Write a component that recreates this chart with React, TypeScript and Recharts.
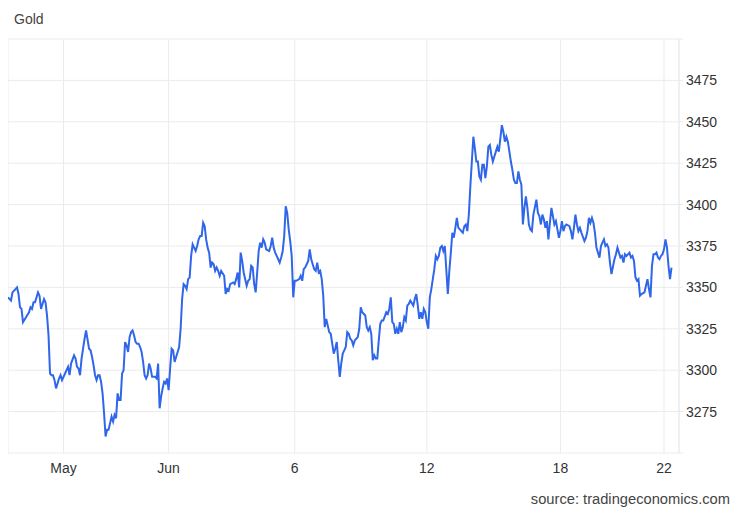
import { LineChart, Line, XAxis, YAxis, CartesianGrid } from "recharts";

// hours since start of the window (trading hours)
const hours = [
  0, 2, 3, 5, 6, 7, 8, 9, 10, 12, 14, 15, 16, 17, 18, 20, 21, 22, 24, 25, 26, 27, 28, 29, 30,
  31, 32, 33, 34, 35, 36, 38, 39, 40, 41, 42, 44, 45, 46, 47, 48, 49, 50, 51, 52, 54, 55, 56, 57,
  58, 59, 60, 61, 62, 63, 64, 65, 66, 67, 69, 70, 71, 72, 73, 74, 75, 76, 77, 78, 79, 80, 81, 82,
  83, 84, 85, 86, 87, 88, 89, 90, 91, 92, 93, 94, 95, 96, 97, 98, 99, 100, 101, 102, 103, 104,
  105, 106, 107, 108, 109, 110, 111, 112, 114, 115, 116, 117, 118, 119, 120, 121, 122, 123, 124,
  125, 126, 127, 128, 129, 130, 131, 132, 133, 134, 135, 136, 137, 138, 139, 140, 141, 142, 144,
  145, 146, 147, 148, 150, 151, 152, 153, 154, 155, 156, 157, 159, 160, 161, 162, 163, 164, 165,
  166, 167, 168, 169, 170, 171, 172, 174, 175, 176, 177, 178, 179, 180, 181, 182, 183, 184, 185,
  186, 187, 188, 189, 190, 191, 192, 194, 195, 196, 197, 198, 199, 200, 201, 202, 204, 205, 206,
  207, 208, 209, 210, 211, 212, 214, 215, 216, 217, 218, 219, 220, 221, 222, 223, 224, 225, 226,
  227, 228, 229, 230, 231, 232, 233, 234, 235, 236, 238, 239, 240, 241, 242, 243, 244, 245, 246,
  247, 248, 249, 250, 252, 253, 254, 255, 256, 257, 258, 259, 260, 261, 262, 263, 264, 265, 266,
  267, 268, 270, 271, 272, 273, 274, 275, 276, 277, 278, 279, 280, 281, 282, 284, 285, 286, 287,
  288, 289, 290, 291, 293, 294, 295, 296, 297, 298, 299, 300, 301, 302, 303, 304, 305, 306, 307,
  308, 309, 310, 311, 312, 313, 314, 315, 316, 317, 318, 319, 320, 321, 322, 323, 324, 325, 326,
  327, 328, 329, 330, 331, 332, 333, 334, 335, 336, 337, 338, 339, 340, 341, 342, 343, 344, 345,
  346, 347, 348, 349, 350, 352, 353, 354, 355, 356, 357, 358, 359, 360, 361, 362, 364, 365, 366,
  367, 368, 369, 370, 371, 372, 374, 375, 376, 377, 378, 379, 380, 381, 382, 384, 385, 386, 387,
  388, 389, 390, 391, 392, 394, 395, 396, 397, 398, 399, 400, 401, 402, 404, 405, 406, 407, 408,
  409, 410, 411, 412, 414, 415, 416, 417, 418, 419, 420, 421, 422, 424, 425, 426, 427, 428, 429,
  430, 431, 432, 433, 434, 435, 436, 437, 438, 439, 440, 441, 442,
];

// gold price, USD/t.oz
const prices = [
  3344, 3342, 3347, 3349, 3350, 3346, 3338, 3337, 3329, 3332, 3335, 3338, 3337, 3341, 3341, 3347,
  3345, 3337, 3343, 3341, 3333, 3321, 3298, 3297, 3297, 3294, 3289, 3292, 3295, 3297, 3294, 3298,
  3300, 3302, 3297, 3304, 3309, 3307, 3302, 3301, 3297, 3307, 3313, 3319, 3324, 3313, 3312, 3308,
  3303, 3297, 3294, 3297, 3297, 3293, 3286, 3274, 3260, 3264, 3264, 3272, 3269, 3273, 3271, 3286,
  3282, 3282, 3298, 3300, 3317, 3315, 3311, 3320, 3323, 3324, 3321, 3317, 3316, 3316, 3314, 3311,
  3305, 3297, 3295, 3297, 3304, 3301, 3296, 3296, 3296, 3295, 3304, 3277, 3284, 3289, 3293, 3292,
  3295, 3288, 3301, 3313, 3312, 3305, 3308, 3314, 3325, 3343, 3352, 3351, 3349, 3355, 3356, 3369,
  3376, 3374, 3372, 3375, 3379, 3381, 3381, 3389, 3387, 3379, 3374, 3371, 3362, 3365, 3364, 3360,
  3362, 3360, 3357, 3360, 3357, 3346, 3349, 3348, 3352, 3353, 3352, 3355, 3359, 3350, 3371, 3366,
  3359, 3351, 3354, 3355, 3363, 3362, 3352, 3347, 3359, 3372, 3377, 3374, 3379, 3377, 3373, 3372,
  3375, 3380, 3374, 3371, 3369, 3367, 3365, 3368, 3372, 3381, 3399, 3395, 3385, 3378, 3369, 3344,
  3354, 3354, 3355, 3357, 3354, 3361, 3362, 3364, 3366, 3373, 3367, 3361, 3360, 3365, 3359, 3360,
  3355, 3345, 3326, 3331, 3323, 3322, 3316, 3310, 3313, 3317, 3306, 3296, 3304, 3310, 3312, 3314,
  3323, 3322, 3319, 3318, 3315, 3318, 3319, 3320, 3325, 3338, 3335, 3333, 3326, 3324, 3326, 3322,
  3306, 3309, 3307, 3307, 3318, 3328, 3330, 3330, 3335, 3334, 3337, 3344, 3329, 3328, 3322, 3325,
  3322, 3329, 3323, 3326, 3332, 3330, 3339, 3340, 3342, 3339, 3343, 3346, 3339, 3331, 3335, 3331,
  3337, 3335, 3329, 3325, 3344, 3349, 3361, 3369, 3367, 3369, 3374, 3375, 3372, 3375, 3346, 3360,
  3371, 3383, 3380, 3386, 3392, 3386, 3385, 3384, 3383, 3387, 3388, 3384, 3394, 3411, 3426, 3441,
  3434, 3426, 3426, 3417, 3415, 3424, 3424, 3416, 3423, 3435, 3436, 3430, 3426, 3429, 3432, 3435,
  3432, 3440, 3448, 3444, 3438, 3441, 3438, 3432, 3426, 3421, 3415, 3413, 3413, 3420, 3415, 3412,
  3388, 3398, 3405, 3398, 3388, 3385, 3384, 3394, 3403, 3395, 3393, 3388, 3394, 3391, 3386, 3390,
  3379, 3389, 3398, 3388, 3390, 3385, 3380, 3384, 3390, 3384, 3387, 3388, 3387, 3384, 3379, 3386,
  3394, 3388, 3384, 3386, 3383, 3378, 3380, 3384, 3392, 3389, 3392, 3389, 3383, 3374, 3368, 3375,
  3377, 3379, 3375, 3376, 3374, 3365, 3358, 3367, 3370, 3374, 3371, 3368, 3369, 3365, 3370, 3369,
  3371, 3368, 3369, 3366, 3356, 3354, 3355, 3345, 3346, 3347, 3351, 3355, 3349, 3344, 3363, 3370,
  3370, 3371, 3368, 3367, 3369, 3370, 3373, 3379, 3374, 3363, 3355, 3362,
];

const dateTicks = [37, 107, 191, 279, 368, 437];
const dateLabels = ["May", "Jun", "6", "12", "18", "22"];

const priceTicks = [3250, 3275, 3300, 3325, 3350, 3375, 3400, 3425, 3450, 3475, 3500];
const shownPrices = [3275, 3300, 3325, 3350, 3375, 3400, 3425, 3450, 3475];

const data = hours.map((h, i) => ({ h, price: prices[i] }));

const font = "'Liberation Sans', Arial, sans-serif";
const gridColor = "#ebebeb";

export default function App() {
  return (
    <div style={{ position: "relative", width: 732, height: 505, fontFamily: font }}>
      <div style={{ position: "absolute", left: 6, top: 3, fontSize: 14, color: "#444" }}>Gold</div>
      <LineChart
        width={732}
        height={497}
        data={data}
        margin={{ top: 31, right: 0, left: 0, bottom: 22 }}
      >
        <CartesianGrid stroke={gridColor} strokeWidth={1} />
        <XAxis
          dataKey="h"
          type="number"
          domain={[0, 447]}
          ticks={dateTicks}
          tickFormatter={(v: number) => dateLabels[dateTicks.indexOf(v)] ?? ""}
          axisLine={false}
          tickLine={false}
          tickSize={6}
          tickMargin={4}
          height={30}
          tick={{ fontSize: 14, fill: "#333", fontFamily: font }}
        />
        <YAxis
          orientation="right"
          type="number"
          domain={[3250, 3500]}
          ticks={priceTicks}
          tickFormatter={(v: number) => (shownPrices.includes(v) ? String(v) : "")}
          axisLine={{ stroke: gridColor }}
          tickLine={{ stroke: gridColor }}
          tickSize={4}
          tickMargin={3}
          width={61}
          tick={{ fontSize: 14, fill: "#333", fontFamily: font }}
        />
        <Line
          type="linear"
          dataKey="price"
          stroke="#2f66ea"
          strokeWidth={2}
          dot={false}
          isAnimationActive={false}
        />
      </LineChart>
      <div
        style={{
          position: "absolute",
          right: 10,
          top: 483,
          fontSize: 14.7,
          color: "#444",
          whiteSpace: "nowrap",
        }}
      >
        source: tradingeconomics.com
      </div>
    </div>
  );
}
